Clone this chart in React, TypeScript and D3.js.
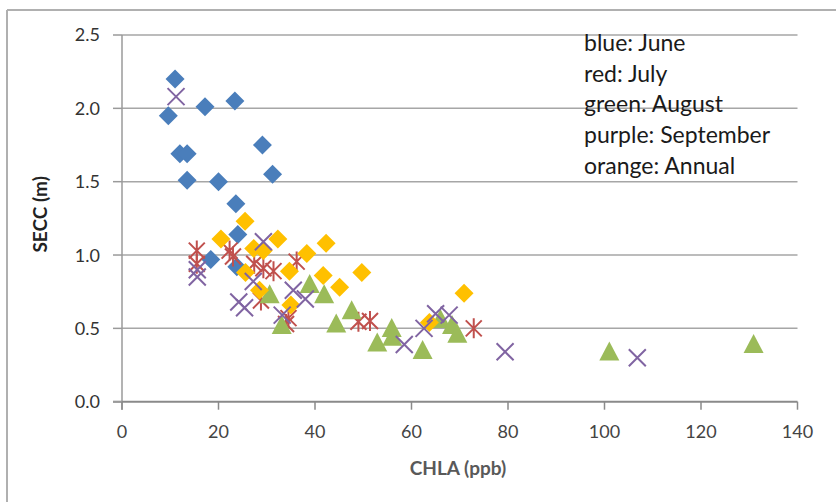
import { useEffect, useRef } from "react";
import * as d3 from "d3";

type Pt = [number, number]; // [CHLA ppb, SECC m]

const june: Pt[] = [
  [11.0, 2.2], [9.6, 1.95], [17.2, 2.01], [23.4, 2.05], [12.0, 1.69],
  [13.5, 1.69], [13.5, 1.51], [20.0, 1.5], [29.1, 1.75], [31.2, 1.55],
  [23.6, 1.35], [24.0, 1.14], [18.4, 0.97], [23.8, 0.92],
];
const july: Pt[] = [
  [15.5, 1.03], [15.5, 0.94], [22.3, 1.03], [23.0, 0.99], [27.4, 0.94],
  [29.3, 0.91], [31.4, 0.89], [36.2, 0.955], [28.8, 0.69], [34.5, 0.57],
  [34.0, 0.53], [49.0, 0.545], [51.4, 0.55], [72.9, 0.5],
];
const august: Pt[] = [
  [30.6, 0.73], [33.1, 0.52], [38.9, 0.8], [41.9, 0.73], [44.4, 0.53],
  [47.6, 0.62], [52.9, 0.4], [55.9, 0.5], [56.0, 0.44], [62.3, 0.35],
  [66.0, 0.56], [68.4, 0.52], [69.5, 0.46], [101.0, 0.34], [130.9, 0.39],
];
const september: Pt[] = [
  [11.2, 2.08], [15.6, 0.9], [15.6, 0.85], [24.2, 0.68], [25.4, 0.64],
  [27.2, 0.82], [29.3, 1.09], [35.5, 0.76], [38.0, 0.7], [33.2, 0.59],
  [58.5, 0.39], [62.6, 0.5], [65.0, 0.6], [67.8, 0.59], [79.4, 0.34],
  [106.8, 0.3],
];
const annual: Pt[] = [
  [20.5, 1.11], [25.5, 1.23], [27.3, 1.045], [29.3, 1.03], [32.3, 1.11],
  [38.3, 1.01], [42.3, 1.08], [25.6, 0.88], [34.7, 0.89], [41.7, 0.86],
  [49.7, 0.88], [28.5, 0.76], [45.1, 0.78], [35.0, 0.66], [70.9, 0.74],
  [63.7, 0.54],
];

const xTicks = [0, 20, 40, 60, 80, 100, 120, 140];
const yTicks = [0, 0.5, 1.0, 1.5, 2.0, 2.5];
const legendLines = [
  "blue: June",
  "red: July",
  "green: August",
  "purple: September",
  "orange: Annual",
];

export default function App() {
  const svgRef = useRef<SVGSVGElement>(null);

  useEffect(() => {
    if (!svgRef.current) return;
    const svg = d3.select(svgRef.current);
    svg.selectAll("*").remove();

    const x = d3.scaleLinear().domain([0, 140]).range([122, 797.5]);
    const y = d3.scaleLinear().domain([0, 2.5]).range([401.7, 35]);
    const font = "Lato, 'Open Sans', sans-serif";

    // outer frame (top + left only, like the cropped screenshot)
    svg.append("line").attr("x1", 7).attr("x2", 836).attr("y1", 10).attr("y2", 10)
      .attr("stroke", "#b0b0b0").attr("stroke-width", 2);
    svg.append("line").attr("x1", 7).attr("x2", 7).attr("y1", 10).attr("y2", 502)
      .attr("stroke", "#b0b0b0").attr("stroke-width", 2);

    // gridlines
    yTicks.filter((t) => t > 0).forEach((t) => {
      svg.append("line")
        .attr("x1", x(0)).attr("x2", x(140))
        .attr("y1", y(t)).attr("y2", y(t))
        .attr("stroke", "#a6a6a6").attr("stroke-width", 1.5);
    });

    // axes
    svg.append("line").attr("x1", x(0)).attr("x2", x(0)).attr("y1", y(2.5)).attr("y2", y(0) + 8)
      .attr("stroke", "#9a9a9a").attr("stroke-width", 1.5);
    svg.append("line").attr("x1", x(0) - 9).attr("x2", x(140)).attr("y1", y(0)).attr("y2", y(0))
      .attr("stroke", "#8a8a8a").attr("stroke-width", 2);

    yTicks.forEach((t) => {
      svg.append("line").attr("x1", x(0) - 9).attr("x2", x(0))
        .attr("y1", y(t)).attr("y2", y(t))
        .attr("stroke", "#9a9a9a").attr("stroke-width", 1.5);
      svg.append("text")
        .attr("x", 100).attr("y", y(t)).attr("dy", "0.36em")
        .attr("text-anchor", "end")
        .attr("font-family", font).attr("font-size", 18)
        .attr("fill", "#333")
        .text(d3.format(".1f")(t));
    });

    xTicks.forEach((t) => {
      svg.append("line").attr("x1", x(t)).attr("x2", x(t))
        .attr("y1", y(0)).attr("y2", y(0) + 8)
        .attr("stroke", "#8a8a8a").attr("stroke-width", 1.5);
      svg.append("text")
        .attr("x", x(t)).attr("y", 438)
        .attr("text-anchor", "middle")
        .attr("font-family", font).attr("font-size", 18)
        .attr("fill", "#444")
        .text(t.toString());
    });

    // axis titles
    svg.append("text")
      .attr("transform", `translate(40,${y(1.25) - 4}) rotate(-90)`)
      .attr("dy", "0.35em")
      .attr("text-anchor", "middle")
      .attr("font-family", font).attr("font-weight", "bold").attr("font-size", 19)
      .attr("fill", "#222")
      .text("SECC (m)");
    svg.append("text")
      .attr("x", 458).attr("y", 475)
      .attr("text-anchor", "middle")
      .attr("font-family", font).attr("font-weight", "bold").attr("font-size", 19)
      .attr("fill", "#595959")
      .text("CHLA (ppb)");

    // marker shapes
    const diamond = (r: number) => `M0,${-r}L${r},0L0,${r}L${-r},0Z`;
    const triangle = (w: number, h: number) =>
      `M0,${-h * 0.55}L${w / 2},${h * 0.45}L${-w / 2},${h * 0.45}Z`;
    const cross = (r: number) => `M${-r},${-r}L${r},${r}M${r},${-r}L${-r},${r}`;
    const star = (r: number) => `${cross(r)}M0,${-r * 1.25}L0,${r * 1.25}`;

    const drawFilled = (data: Pt[], d: string, color: string) => {
      svg.append("g").selectAll("path").data(data).join("path")
        .attr("transform", (p) => `translate(${x(p[0])},${y(p[1])})`)
        .attr("d", d)
        .attr("fill", color);
    };
    const drawStroked = (data: Pt[], d: string, color: string) => {
      svg.append("g").selectAll("path").data(data).join("path")
        .attr("transform", (p) => `translate(${x(p[0])},${y(p[1])})`)
        .attr("d", d)
        .attr("fill", "none")
        .attr("stroke", color)
        .attr("stroke-width", 2);
    };

    drawFilled(june, diamond(9.5), "#4a7ebb");
    drawStroked(july, star(8), "#c0504d");
    drawFilled(august, triangle(20, 19), "#9bbb59");
    drawFilled(annual, diamond(9.5), "#ffc000");
    drawStroked(september, cross(8.5), "#8064a2");

    // legend text block
    legendLines.forEach((s, i) => {
      svg.append("text")
        .attr("x", 584).attr("y", 51 + i * 30.7)
        .attr("font-family", font).attr("font-size", 23)
        .attr("fill", "#1a1a1a")
        .text(s);
    });
  }, []);

  return (
    <svg
      ref={svgRef}
      width={836}
      height={502}
      style={{ position: "absolute", left: 0, top: 0, background: "#fff" }}
    ></svg>
  );
}
